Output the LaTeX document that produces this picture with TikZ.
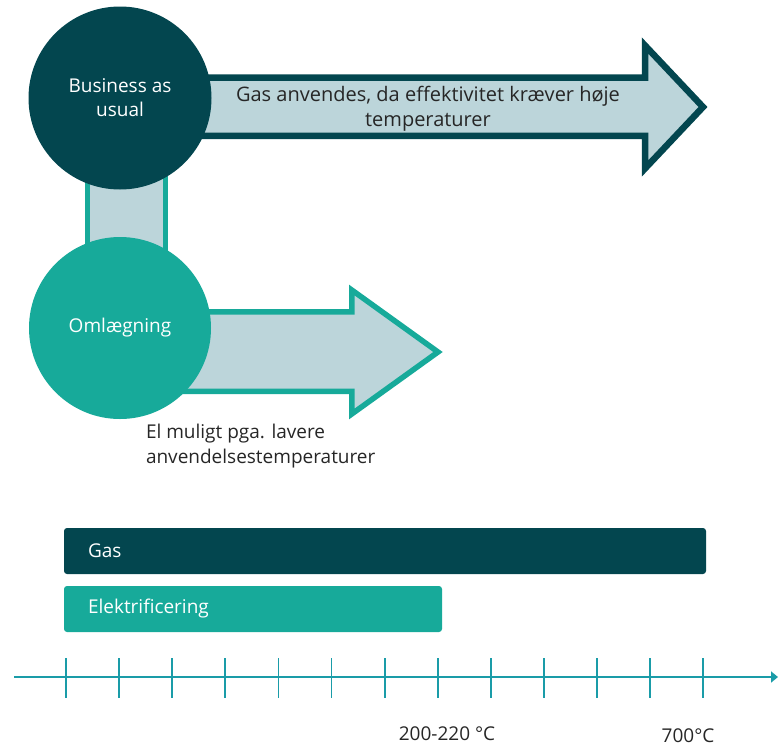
\documentclass[tikz,border=0pt]{standalone}
\usepackage{fontspec}
\setmainfont{Open Sans}
\usetikzlibrary{arrows.meta}
\definecolor{dark}{HTML}{03464F}
\definecolor{tealc}{HTML}{17AA9A}
\definecolor{lightc}{HTML}{BCD5DA}
\definecolor{axisc}{HTML}{1A9CA8}
\definecolor{txt}{HTML}{262626}
\begin{document}
\begin{tikzpicture}[x=1pt,y=-1pt,
  every node/.style={inner sep=0pt, outer sep=0pt},
  lbl/.style={font=\fontsize{19}{25}\selectfont, text=txt, align=center},
  biglbl/.style={font=\fontsize{20}{25}\selectfont, text=txt, align=center},
  wlbl/.style={font=\fontsize{19}{24}\selectfont, text=white, align=center},
  bubble/.style={circle, minimum size=#1},
  barbox/.style={rounded corners=3pt, minimum height=46pt, anchor=north west},
  axisline/.style={axisc, line width=2.2pt},
  tickline/.style={axisc, line width=1.8pt}]
\useasboundingbox (0,0) rectangle (778,747);
% vertical connector
\draw[tealc, line width=5.5pt, fill=lightc] (87.5,150) rectangle (165.5,270);
% top arrow
\draw[dark, line width=6.5pt, fill=lightc, miter limit=10]
  (150,77.5) -- (645,77.5) -- (645,45.5) -- (703,107) -- (645,168.5) -- (645,135.75) -- (150,135.75) -- cycle;
% bottom arrow
\draw[tealc, line width=5.5pt, fill=lightc, miter limit=10]
  (150,311.75) -- (351.75,311.75) -- (351.75,290) -- (438,352) -- (351.75,414) -- (351.75,391.25) -- (150,391.25) -- cycle;
% circles
\node[bubble=183pt, fill=dark, wlbl] (bau) at (120,98) {Business as\\usual};
\node[bubble=182pt, fill=tealc, wlbl] (oml) at (120,328) {Omlægning};
% texts
\node[biglbl] (gastxt) at (428,108.5) {Gas anvendes, da effektivitet kræver høje\\temperaturer};
\node[lbl, align=left, anchor=west] (eltxt) at (146,446) {El muligt pga. lavere\\anvendelsestemperaturer};
% bars
\node[barbox, fill=dark, minimum width=642pt] (gasbar) at (64,528) {};
\node[wlbl, anchor=west] (gaslbl) at ([xshift=24pt]gasbar.west) {Gas};
\node[barbox, fill=tealc, minimum width=378pt] (elbar) at (64,586) {};
\node[wlbl, anchor=west] (ellbl) at ([xshift=24pt]elbar.west) {Elektrificering};
% axis
\coordinate (a0) at (14,677);
\coordinate (a1) at (778,677);
\draw[axisline, -{Triangle[length=7pt,width=11pt]}] (a0) -- (a1);
\foreach \i in {0,...,12} {
  \draw[tickline] ({66+53.1*\i},658) -- ({66+53.1*\i},698);
}
\node[lbl] (t1) at (447,734) {200-220 °C};
\node[lbl] (t2) at (688,736) {700°C};
\end{tikzpicture}
\end{document}
